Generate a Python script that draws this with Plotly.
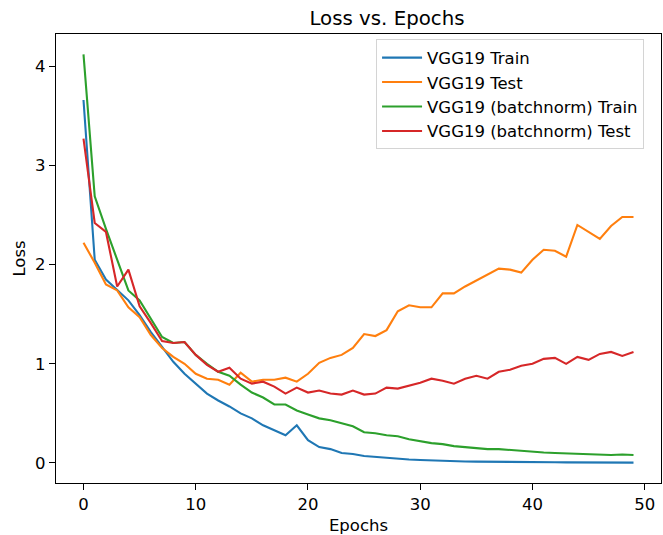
import plotly.graph_objects as go

# Per-epoch loss curves
epochs = list(range(50))

vgg19_train = [3.66, 2.05, 1.85, 1.74, 1.64, 1.49, 1.32, 1.17, 1.02, 0.90,
               0.80, 0.70, 0.63, 0.57, 0.50, 0.45, 0.38, 0.33, 0.28, 0.38,
               0.23, 0.16, 0.14, 0.10, 0.09, 0.07, 0.06, 0.05, 0.04, 0.035,
               0.03, 0.025, 0.02, 0.018, 0.015, 0.014, 0.012, 0.011, 0.010, 0.009,
               0.008, 0.007, 0.007, 0.006, 0.006, 0.005, 0.005, 0.004, 0.004, 0.004]

vgg19_test = [2.22, 2.02, 1.80, 1.74, 1.57, 1.47, 1.29, 1.16, 1.07, 1.00,
              0.90, 0.85, 0.84, 0.79, 0.91, 0.82, 0.84, 0.84, 0.86, 0.82,
              0.90, 1.01, 1.06, 1.09, 1.16, 1.30, 1.28, 1.34, 1.53, 1.59,
              1.57, 1.57, 1.71, 1.71, 1.78, 1.84, 1.90, 1.96, 1.95, 1.92,
              2.05, 2.15, 2.14, 2.08, 2.40, 2.33, 2.26, 2.39, 2.48, 2.48]

vgg19_bn_train = [4.12, 2.69, 2.36, 2.04, 1.74, 1.64, 1.46, 1.27, 1.21, 1.22,
                  1.09, 1.00, 0.92, 0.88, 0.79, 0.71, 0.66, 0.59, 0.59, 0.53,
                  0.49, 0.45, 0.43, 0.40, 0.37, 0.31, 0.30, 0.28, 0.27, 0.24,
                  0.22, 0.20, 0.19, 0.17, 0.16, 0.15, 0.14, 0.14, 0.13, 0.12,
                  0.11, 0.105, 0.10, 0.095, 0.095, 0.09, 0.08, 0.08, 0.085, 0.08]

vgg19_bn_test = [3.27, 2.42, 2.33, 1.78, 1.95, 1.58, 1.41, 1.23, 1.21, 1.22,
                 1.09, 0.99, 0.92, 0.96, 0.85, 0.80, 0.82, 0.77, 0.70, 0.76,
                 0.71, 0.73, 0.70, 0.69, 0.73, 0.69, 0.70, 0.76, 0.75, 0.78,
                 0.81, 0.85, 0.83, 0.80, 0.85, 0.88, 0.85, 0.92, 0.94, 0.98,
                 1.00, 1.05, 1.06, 1.00, 1.07, 1.04, 1.10, 1.12, 1.08, 1.12]

series_names = ["VGG19 Train", "VGG19 Test",
                "VGG19 (batchnorm) Train", "VGG19 (batchnorm) Test"]
series_values = [vgg19_train, vgg19_test, vgg19_bn_train, vgg19_bn_test]
series_colors = ["#1f77b4", "#ff7f0e", "#2ca02c", "#d62728"]

x_ticks = [0, 10, 20, 30, 40, 50]
y_ticks = [0, 1, 2, 3, 4]

FONT = "DejaVu Sans"

fig = go.Figure()
for i, (name, vals, col) in enumerate(zip(series_names, series_values, series_colors)):
    fig.add_trace(go.Scatter(
        x=epochs, y=vals, mode="lines", name=name,
        legendgroup=f"g{i}",
        line=dict(color=col, width=2.1),
    ))

# 5% padding around the data on both axes
x_lo, x_hi = min(epochs), max(epochs)
x_pad = 0.05 * (x_hi - x_lo)
all_vals = [v for s in series_values for v in s]
y_lo, y_hi = min(all_vals), max(all_vals)
y_pad = 0.05 * (y_hi - y_lo)

axis_common = dict(
    showline=True, linecolor="black", linewidth=1.2, mirror=True,
    ticks="outside", ticklen=6, tickwidth=1.2, tickcolor="black",
    showgrid=False, zeroline=False,
    tickfont=dict(family=FONT, size=16.5, color="black"),
)

fig.update_layout(
    width=663, height=535,
    margin=dict(l=56, r=2, t=34, b=52),
    paper_bgcolor="white", plot_bgcolor="white",
    font=dict(family=FONT, color="black"),
    title=dict(text="Loss vs. Epochs", x=(56 + 331) / 663, xanchor="center",
               y=1 - 18 / 535, yanchor="middle", yref="container",
               font=dict(family=FONT, size=19.8, color="black")),
    xaxis=dict(range=[x_lo - x_pad, x_hi + x_pad], tickvals=x_ticks,
               title=dict(text="Epochs", standoff=6,
                          font=dict(family=FONT, size=16.5, color="black")),
               **axis_common),
    yaxis=dict(range=[y_lo - y_pad, y_hi + y_pad], tickvals=y_ticks,
               title=dict(text="Loss", standoff=5,
                          font=dict(family=FONT, size=16.5, color="black")),
               **axis_common),
    legend=dict(x=0.972, xanchor="right", y=0.988, yanchor="top",
                bgcolor="rgba(255,255,255,0.8)", bordercolor="#d4d4d4", borderwidth=1,
                font=dict(family=FONT, size=16.5, color="black"),
                traceorder="grouped", tracegroupgap=0, itemwidth=40),
    showlegend=True,
)

fig.write_html("out.html")
